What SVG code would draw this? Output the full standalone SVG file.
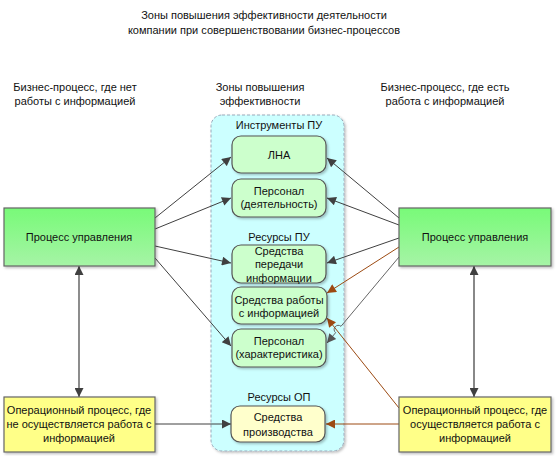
<svg xmlns="http://www.w3.org/2000/svg" width="557" height="456" viewBox="0 0 557 456">
<defs>
<linearGradient id="gG" x1="0" y1="0" x2="0" y2="1"><stop offset="0" stop-color="#78fa78"/><stop offset="1" stop-color="#a6f4a6"/></linearGradient>
<filter id="sh" x="-10%" y="-10%" width="130%" height="130%"><feDropShadow dx="1.5" dy="1.5" stdDeviation="1" flood-color="#000" flood-opacity="0.25"/></filter>
<marker id="aD" viewBox="0 0 10 10" refX="10" refY="5" markerWidth="11" markerHeight="9" markerUnits="userSpaceOnUse" orient="auto-start-reverse"><path d="M0,0 L10,5 L0,10 z" fill="#404040"/></marker>
<marker id="aG" viewBox="0 0 10 10" refX="10" refY="5" markerWidth="11" markerHeight="9" markerUnits="userSpaceOnUse" orient="auto-start-reverse"><path d="M0,0 L10,5 L0,10 z" fill="#555"/></marker>
<marker id="aB" viewBox="0 0 10 10" refX="10" refY="5" markerWidth="11" markerHeight="9" markerUnits="userSpaceOnUse" orient="auto-start-reverse"><path d="M0,0 L10,5 L0,10 z" fill="#9c4a12"/></marker>
</defs>
<style>
text{font-family:"Liberation Sans",Arial,sans-serif;font-size:11px;fill:#111;text-anchor:middle}
.node{fill:#ccffcc;stroke:#555;stroke-width:1.2}
.ynode{fill:#ffffcc;stroke:#555;stroke-width:1.2}
.big{fill:url(#gG);stroke:#666;stroke-width:1.2}
.ybig{fill:#ffff88;stroke:#666;stroke-width:1.2}
.c{fill:none;stroke:#404040;stroke-width:1;marker-end:url(#aD)}
.cg{fill:none;stroke:#666;stroke-width:1;marker-end:url(#aG)}
.cb{fill:none;stroke:#9c4a12;stroke-width:1;marker-end:url(#aB)}
</style>
<rect width="557" height="456" fill="#fff"/>
<g id="title">
<text x="264" y="19">Зоны повышения эффективности деятельности</text>
<text x="264" y="34">компании при совершенствовании бизнес-процессов</text>
</g>
<g id="headers">
<text x="75" y="91">Бизнес-процесс, где нет</text>
<text x="75" y="105">работы с информацией</text>
<text x="260" y="91">Зоны повышения</text>
<text x="260" y="105">эффективности</text>
<text x="445" y="91">Бизнес-процесс, где есть</text>
<text x="445" y="105">работа с информацией</text>
</g>
<g id="zone">
<rect x="211" y="115" width="133" height="336" rx="11" fill="#ccffff" stroke="#9ab" stroke-width="1" stroke-dasharray="3,2" filter="url(#sh)"/>
<text x="279" y="129">Инструменты ПУ</text>
<text x="279" y="241">Ресурсы ПУ</text>
<text x="279" y="401">Ресурсы ОП</text>
</g>
<g id="connectors">
<path class="c" d="M155,218 L231,157"/>
<path class="c" d="M155,229 L231,198"/>
<path class="c" d="M155,246 L231,263"/>
<path class="c" d="M155,258 L231,346"/>
<path class="c" d="M155,424 L231,424"/>
<path class="c" d="M399,218 L327,158"/>
<path class="c" d="M399,225 L327,198"/>
<path class="c" d="M399,238 L327,263"/>
<path class="cb" d="M399,247 L327,293"/>
<path class="cg" d="M399,257 L341,326.3 A3.5,3.5 0 0 0 335.6,332.7 L327,343"/>
<path class="cb" d="M399,408 L327,318"/>
<path class="cb" d="M399,424 L326,424"/>
<path fill="none" stroke="#404040" stroke-width="1.2" marker-start="url(#aD)" marker-end="url(#aD)" d="M79,266 L79,397"/>
<path fill="none" stroke="#888" stroke-width="2" marker-start="url(#aD)" marker-end="url(#aD)" d="M474,266 L474,397"/>
</g>
<g id="n_lna"><rect class="node" x="232" y="136" width="94" height="37" rx="9" filter="url(#sh)"/><text x="279" y="159">ЛНА</text></g>
<g id="n_pers1"><rect class="node" x="232" y="179" width="94" height="38" rx="9" filter="url(#sh)"/><text x="279" y="195">Персонал</text><text x="279" y="208">(деятельность)</text></g>
<g id="n_peredachi"><rect class="node" x="232" y="245" width="94" height="38" rx="9" filter="url(#sh)"/><text x="279" y="255">Средства</text><text x="279" y="268">передачи</text><text x="279" y="282">информации</text></g>
<g id="n_raboty"><rect class="node" x="232" y="287" width="95" height="37" rx="9" filter="url(#sh)"/><text x="279" y="304">Средства работы</text><text x="279" y="317">с информацией</text></g>
<g id="n_pers2"><rect class="node" x="232" y="329" width="94" height="38" rx="9" filter="url(#sh)"/><text x="279" y="345">Персонал</text><text x="279" y="358">(характеристика)</text></g>
<g id="n_proizv"><rect class="ynode" x="231" y="406" width="94" height="36" rx="9" filter="url(#sh)"/><text x="278" y="421">Средства</text><text x="278" y="436">производства</text></g>
<g id="n_pu_left"><rect class="big" x="4" y="208" width="151" height="58" filter="url(#sh)"/><text x="79" y="241">Процесс управления</text></g>
<g id="n_pu_right"><rect class="big" x="399" y="208" width="152" height="58" filter="url(#sh)"/><text x="475" y="241">Процесс управления</text></g>
<g id="n_op_left"><rect class="ybig" x="4" y="397" width="151" height="55" filter="url(#sh)"/><text x="79" y="414">Операционный процесс, где</text><text x="79" y="428">не осуществляется работа с</text><text x="79" y="442">информацией</text></g>
<g id="n_op_right"><rect class="ybig" x="399" y="397" width="152" height="55" filter="url(#sh)"/><text x="475" y="414">Операционный процесс, где</text><text x="475" y="428">осуществляется работа с</text><text x="475" y="442">информацией</text></g>
</svg>
